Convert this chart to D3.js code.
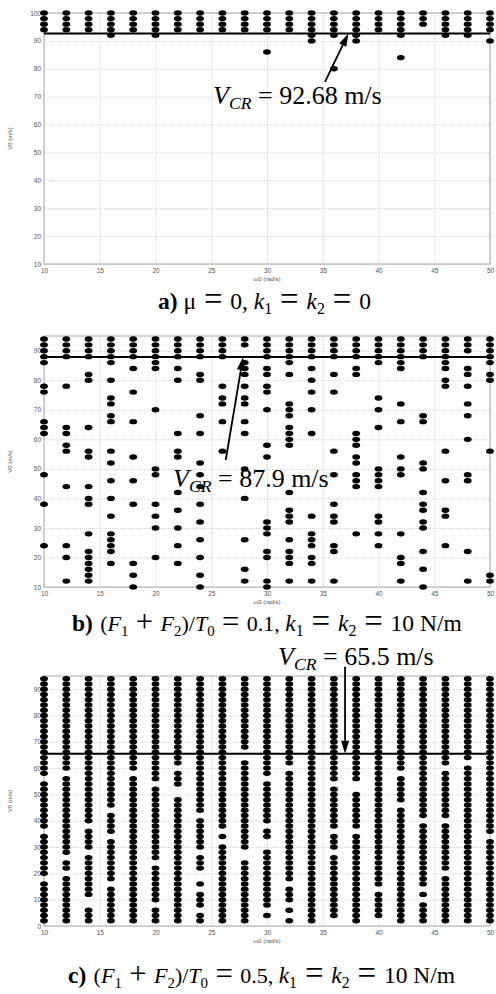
<!DOCTYPE html>
<html>
<head>
<meta charset="utf-8">
<script src="https://cdn.jsdelivr.net/npm/d3@7"></script>
<style>
body { margin: 0; background: #fff; }
</style>
</head>
<body>
<script>
var width = 496;
var height = 994;

// excitation frequencies (columns of points)
var omega = [10, 12, 14, 16, 18, 20, 22, 24, 26, 28, 30, 32, 34, 36, 38, 40, 42, 44, 46, 48, 50];
var xTicks = [10, 15, 20, 25, 30, 35, 40, 45, 50];
var yTicksA = [10, 20, 30, 40, 50, 60, 70, 80, 90, 100];
var yTicksB = [10, 20, 30, 40, 50, 60, 70, 80, 90];
var yTicksC = [0, 10, 20, 30, 40, 50, 60, 70, 80, 90];

// a) stable V0 values per omega
var stableA = [
  [100, 98, 96, 94],
  [100, 98, 96, 94],
  [100, 98, 96, 94],
  [100, 98, 96, 94, 92],
  [100, 98, 96, 94],
  [100, 98, 96, 94, 92],
  [100, 98, 96, 94],
  [100, 98, 96, 94],
  [100, 98, 96, 94],
  [100, 98, 96, 94],
  [100, 98, 96, 94, 86],
  [100, 98, 96, 94],
  [100, 98, 96, 94, 92, 90],
  [100, 98, 96, 94, 92, 80],
  [100, 98, 96, 94, 92, 90],
  [100, 98, 96, 94],
  [100, 98, 96, 94, 92, 84],
  [100, 98, 96],
  [100, 98, 96, 94, 92],
  [100, 98, 96, 94, 92],
  [100, 98, 96, 94, 90]
];

// b) stable V0 values per omega
var stableB = [
  [94, 92, 90, 88, 86, 78, 76, 66, 64, 62, 48, 38, 24],
  [94, 92, 90, 88, 78, 64, 62, 58, 56, 44, 24, 20, 12],
  [94, 92, 90, 88, 82, 80, 64, 56, 54, 44, 40, 38, 28, 22, 20, 18, 16, 14, 12],
  [94, 92, 90, 88, 86, 80, 74, 72, 68, 66, 56, 52, 46, 40, 34, 28, 26, 24, 22, 18],
  [94, 92, 90, 88, 84, 76, 66, 54, 46, 38, 18, 14, 10],
  [94, 92, 90, 88, 86, 84, 70, 50, 48, 38, 34, 30, 20],
  [94, 92, 90, 88, 84, 80, 62, 56, 54, 42, 36, 30, 24, 18],
  [94, 92, 90, 88, 82, 80, 68, 62, 52, 48, 44, 38, 32, 26, 20, 14, 10],
  [94, 92, 90, 88, 78, 74, 72, 66, 56],
  [94, 92, 86, 84, 82, 78, 74, 72, 66, 62, 50, 40, 26, 16, 12],
  [94, 92, 90, 88, 84, 82, 78, 76, 70, 58, 54, 32, 30, 28, 22, 20, 12, 10],
  [94, 92, 90, 88, 86, 82, 72, 70, 68, 64, 62, 60, 58, 42, 36, 34, 32, 26, 22, 20, 18, 12],
  [94, 92, 90, 88, 84, 80, 76, 70, 62, 34, 28, 26, 24, 20, 18, 12],
  [94, 92, 90, 88, 82, 76, 56, 48, 38, 34, 32, 24, 22, 12],
  [94, 92, 90, 88, 84, 82, 62, 60, 58, 54, 52, 48, 46, 44, 28],
  [94, 92, 90, 88, 86, 74, 70, 64, 50, 48, 46, 44, 34, 32, 28, 24],
  [94, 92, 90, 88, 86, 84, 72, 66, 54, 50, 48, 28, 20, 18, 12],
  [94, 92, 90, 88, 68, 66, 52, 50, 42, 38, 36, 32, 30, 22, 16, 10],
  [94, 92, 90, 88, 86, 84, 80, 78, 56, 46, 36, 34, 24],
  [94, 92, 90, 84, 82, 78, 72, 68, 60, 48, 46, 22, 12],
  [94, 92, 90, 88, 86, 82, 80, 56, 14, 12]
];

// c) V0 grid (top to bottom) and one character per grid value: # stable, . not
var gridC = [94, 92, 90, 88, 86, 84, 82, 80, 78, 76, 74, 72, 70, 68, 66, 64, 62, 60, 58, 56,
  54, 52, 50, 48, 46, 44, 42, 40, 38, 36, 34, 32, 30, 28, 26, 24, 22, 20, 18, 16,
  14, 12, 10, 8, 6, 4, 2];
var stableC = [
  "########## #########. #########. ########.# #######",
  "########## ########.# ########## ####.##.## #######",
  "########## ########## ########.# ###.###### ##..###",
  "########## ########## #####.#### .########. #######",
  "########## ########.# ########## ########## #######",
  "########## ########## .######### #####.#### ###.###",
  "########## #######.## #..####### ########## #######",
  "########## ########## ######.### ###.###..# .###.##",
  "########## ########## #########. #.######## #######",
  "########## ####..#### ########## ###..##### #######",
  "########## #########. ########.# #..####### ####.#.",
  "########## #######.## ########## #########. ###.#.#",
  "########## ########## ########## ########## #######",
  "########## ########## .########. ###.###### ######.",
  "########## ########## ..#######. ########## #######",
  "########## ########## ########## ########## .#####.",
  "########## ########.# ####.##### ########## #######",
  "########## ########## #######.## ########## .#.####",
  "########## #######.## #######.## #######.## #######",
  "########## ######.### ########## ########## #######",
  "########## ########## ########## .######### #######"
];

var vcr = [92.68, 87.9, 65.5];

var serif = "'Liberation Serif', 'Times New Roman', serif";
var sans = "'Liberation Sans', Arial, sans-serif";
var sp = "\u2004"; // slightly wider space used around operators in the captions

var svg = d3.select("body").append("svg")
  .attr("width", width)
  .attr("height", height)
  .style("display", "block");

svg.append("rect").attr("width", width).attr("height", height).attr("fill", "#fff");

function pointsAB(stable) {
  var pts = [];
  omega.forEach(function (w, i) {
    stable[i].forEach(function (v) { pts.push([w, v]); });
  });
  return pts;
}

function pointsC() {
  var pts = [];
  omega.forEach(function (w, i) {
    var row = stableC[i].replace(/ /g, "");
    gridC.forEach(function (v, k) {
      if (row[k] === "#") pts.push([w, v]);
    });
  });
  return pts;
}

// rich text: segments of {t, i (italic), b (bold), sub, op (enlarged operator), size}
function richText(g, x, y, size, segs) {
  var t = g.append("text")
    .attr("x", x)
    .attr("y", y)
    .attr("font-family", serif)
    .attr("font-size", size)
    .attr("fill", "#000")
    .attr("xml:space", "preserve");
  segs.forEach(function (s) {
    var fs = s.size || size;
    var yy = y;
    if (s.sub) { fs = fs * 0.68; yy = y + size * 0.2; }
    if (s.op) { fs = fs * 1.4; yy = y + size * 0.06; }
    t.append("tspan")
      .attr("y", yy)
      .attr("font-size", fs)
      .attr("font-style", s.i ? "italic" : "normal")
      .attr("font-weight", s.b ? "bold" : "normal")
      .text(s.t);
  });
  return t;
}

function drawPanel(cfg) {
  var g = svg.append("g");
  var x = d3.scaleLinear().domain([10, 50]).range([44, 490]);
  var y = d3.scaleLinear().domain(cfg.domain).range([cfg.bottom, cfg.top]);
  var h = cfg.bottom - cfg.top;

  // grid lines
  g.append("g")
    .attr("transform", "translate(0," + cfg.bottom + ")")
    .call(d3.axisBottom(x).tickValues(xTicks).tickSize(-h).tickFormat(""))
    .call(function (a) {
      a.select(".domain").remove();
      a.selectAll("line").attr("stroke", "#d4d4d4").attr("stroke-dasharray", "1,1");
    });
  g.append("g")
    .attr("transform", "translate(44,0)")
    .call(d3.axisLeft(y).tickValues(cfg.yTicks).tickSize(-446).tickFormat(""))
    .call(function (a) {
      a.select(".domain").remove();
      a.selectAll("line").attr("stroke", "#d4d4d4").attr("stroke-dasharray", "1,1");
    });

  // tick labels
  g.append("g")
    .attr("transform", "translate(0," + cfg.bottom + ")")
    .call(d3.axisBottom(x).tickValues(xTicks).tickSize(0).tickPadding(4))
    .call(function (a) {
      a.select(".domain").remove();
      a.selectAll("text").attr("font-family", sans).attr("font-size", 6.5).attr("fill", "#555");
    });
  g.append("g")
    .attr("transform", "translate(44,0)")
    .call(d3.axisLeft(y).tickValues(cfg.yTicks).tickSize(0).tickPadding(3))
    .call(function (a) {
      a.select(".domain").remove();
      a.selectAll("text").attr("font-family", sans).attr("font-size", 6.5).attr("fill", "#555");
    });

  // box
  g.append("rect")
    .attr("x", 44).attr("y", cfg.top)
    .attr("width", 446).attr("height", h)
    .attr("fill", "none").attr("stroke", "#aaa").attr("stroke-width", 1);

  // axis titles
  g.append("text")
    .attr("x", 267).attr("y", cfg.bottom + 17)
    .attr("text-anchor", "middle")
    .attr("font-family", sans).attr("font-size", 6).attr("fill", "#555")
    .text("\u03c90 (rad/s)");
  g.append("text")
    .attr("transform", "translate(12," + (cfg.top + h / 2) + ") rotate(-90)")
    .attr("text-anchor", "middle")
    .attr("font-family", sans).attr("font-size", 6).attr("fill", "#555")
    .text("V0 (m/s)");

  // points
  g.append("g").selectAll("ellipse")
    .data(cfg.points)
    .enter()
    .append("ellipse")
    .attr("cx", function (d) { return x(d[0]); })
    .attr("cy", function (d) { return y(d[1]); })
    .attr("rx", 3.9)
    .attr("ry", 2.7)
    .attr("fill", "#000");

  // critical speed line
  g.append("line")
    .attr("x1", x(10)).attr("x2", x(50))
    .attr("y1", y(cfg.vcr)).attr("y2", y(cfg.vcr))
    .attr("stroke", "#000").attr("stroke-width", 2);

  // arrow
  var x1 = x(cfg.arrow[0]), y1 = y(cfg.arrow[1]), x2 = x(cfg.arrow[2]), y2 = y(cfg.vcr);
  var ang = Math.atan2(y2 - y1, x2 - x1);
  var L = 13, W = 4;
  var bx = x2 - L * Math.cos(ang), by = y2 - L * Math.sin(ang);
  g.append("line")
    .attr("x1", x1).attr("y1", y1).attr("x2", bx).attr("y2", by)
    .attr("stroke", "#000").attr("stroke-width", 1.8);
  g.append("path")
    .attr("d", d3.line()([
      [x2, y2],
      [bx + W * Math.sin(ang), by - W * Math.cos(ang)],
      [bx - W * Math.sin(ang), by + W * Math.cos(ang)]
    ]) + "Z")
    .attr("fill", "#000");

  // annotation
  richText(g, cfg.label[0], cfg.label[1], 26, [
    { t: "V", i: true },
    { t: "CR", i: true, sub: true },
    { t: " = " + cfg.vcr + " m/s" }
  ]);

  // caption
  richText(g, cfg.caption[0], cfg.caption[1], 23.5, cfg.captionSegs);
}

function eq(size) {
  return [{ t: sp, size: size }, { t: "=", op: true, size: size }, { t: sp, size: size }];
}

function captionBC(letter, ratio) {
  var f = 22;
  return [].concat(
    [{ t: letter + ")", b: true },
     { t: sp + "(", size: f },
     { t: "F", i: true, size: f }, { t: "1", sub: true, size: f },
     { t: sp, size: f }, { t: "+", op: true, size: f }, { t: sp, size: f },
     { t: "F", i: true, size: f }, { t: "2", sub: true, size: f },
     { t: ")/", size: f },
     { t: "T", i: true, size: f }, { t: "0", sub: true, size: f }],
    eq(f),
    [{ t: ratio + ", ", size: f },
     { t: "k", i: true }, { t: "1", sub: true }],
    eq(),
    [{ t: "k", i: true }, { t: "2", sub: true }],
    eq(),
    [{ t: "10 N/m" }]
  );
}

drawPanel({
  top: 13, bottom: 264, domain: [10, 100], yTicks: yTicksA,
  points: pointsAB(stableA), vcr: vcr[0],
  arrow: [35.2, 75.3, 37.3],
  label: [213, 104],
  caption: [158, 309],
  captionSegs: [].concat(
    [{ t: "a)", b: true }, { t: " \u03bc" }],
    eq(),
    [{ t: "0, " }, { t: "k", i: true }, { t: "1", sub: true }],
    eq(),
    [{ t: "k", i: true }, { t: "2", sub: true }],
    eq(),
    [{ t: "0" }]
  )
});

drawPanel({
  top: 336, bottom: 587, domain: [10, 95], yTicks: yTicksB,
  points: pointsAB(stableB), vcr: vcr[1],
  arrow: [26.3, 53, 27.85],
  label: [173, 487],
  caption: [72, 631],
  captionSegs: captionBC("b", "0.1")
});

drawPanel({
  top: 676, bottom: 926, domain: [0, 95], yTicks: yTicksC,
  points: pointsC(), vcr: vcr[2],
  arrow: [37, 98.5, 37],
  label: [278, 665],
  caption: [68, 983],
  captionSegs: captionBC("c", "0.5")
});
</script>
</body>
</html>
